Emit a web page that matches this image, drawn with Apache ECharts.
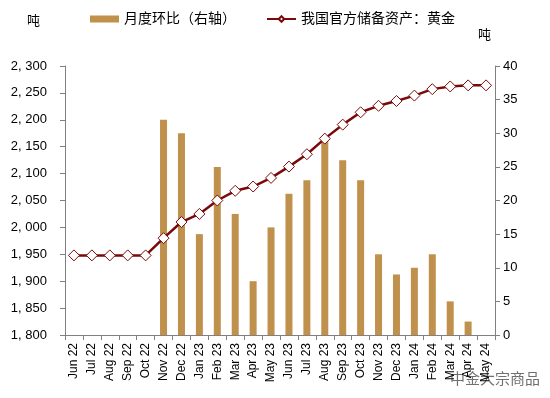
<!DOCTYPE html>
<html>
<head>
<meta charset="utf-8">
<script src="https://cdn.jsdelivr.net/npm/echarts@6/dist/echarts.min.js"></script>
<style>
  html, body { margin: 0; padding: 0; background: #fff; }
  #chart { width: 550px; height: 398px; }
</style>
</head>
<body>
<div id="chart"></div>
<script>
const months = ['Jun 22', 'Jul 22', 'Aug 22', 'Sep 22', 'Oct 22', 'Nov 22', 'Dec 22',
  'Jan 23', 'Feb 23', 'Mar 23', 'Apr 23', 'May 23', 'Jun 23', 'Jul 23', 'Aug 23',
  'Sep 23', 'Oct 23', 'Nov 23', 'Dec 23', 'Jan 24', 'Feb 24', 'Mar 24', 'Apr 24', 'May 24'];
// 月度环比（吨，右轴）
const monthlyChange = [0, 0, 0, 0, 0, 32, 30, 15, 25, 18, 8, 16, 21, 23, 29, 26, 23, 12, 9, 10, 12, 5, 2, 0];
// 我国官方储备资产：黄金（吨，左轴）
const goldReserve = [1948, 1948, 1948, 1948, 1948, 1980, 2010, 2025, 2050, 2068, 2076, 2092,
  2113, 2136, 2165, 2191, 2214, 2226, 2235, 2245, 2257, 2262, 2264, 2264];

const font = 'Liberation Sans, Arial, Noto Sans CJK SC, sans-serif';
const axisColor = '#808080';

const myChart = echarts.init(document.getElementById('chart'));
const option = {
  animation: false,
  textStyle: { fontFamily: font },
  legend: {
    top: 7,
    left: 85,
    itemGap: 30,
    itemWidth: 29,
    itemHeight: 7,
    textStyle: { fontSize: 14, color: '#000', fontFamily: font },
    data: [
      { name: '月度环比（右轴）', icon: 'rect' },
      { name: '我国官方储备资产：黄金' }
    ]
  },
  grid: { left: 65, right: 55, top: 66, bottom: 63 },
  xAxis: {
    type: 'category',
    data: months,
    axisLine: { lineStyle: { color: axisColor } },
    axisTick: { show: true, alignWithLabel: false, lineStyle: { color: axisColor } },
    axisLabel: { rotate: 90, color: '#000', fontSize: 12, interval: 0, margin: 8 }
  },
  yAxis: [
    {
      type: 'value',
      name: '吨',
      nameLocation: 'end',
      nameGap: 38,
      nameTextStyle: { color: '#000', fontSize: 13, align: 'right', padding: [0, 25, 0, 0] },
      min: 1800,
      max: 2300,
      interval: 50,
      splitLine: { show: false },
      axisLine: { show: true, lineStyle: { color: axisColor } },
      axisTick: { show: true, lineStyle: { color: axisColor } },
      axisLabel: {
        color: '#000', fontSize: 13, margin: 18,
        formatter: v => Math.floor(v / 1000) + ', ' + String(v % 1000).padStart(3, '0')
      }
    },
    {
      type: 'value',
      name: '吨',
      nameGap: 24,
      nameTextStyle: { color: '#000', fontSize: 13, align: 'left', padding: [0, 0, 0, -17] },
      min: 0,
      max: 40,
      interval: 5,
      splitLine: { show: false },
      axisLine: { show: true, lineStyle: { color: axisColor } },
      axisTick: { show: true, lineStyle: { color: axisColor } },
      axisLabel: { color: '#000', fontSize: 13, margin: 8 }
    }
  ],
  series: [
    {
      name: '月度环比（右轴）',
      type: 'bar',
      yAxisIndex: 1,
      barWidth: 7,
      data: monthlyChange,
      itemStyle: { color: '#C0904D' }
    },
    {
      name: '我国官方储备资产：黄金',
      type: 'line',
      yAxisIndex: 0,
      data: goldReserve,
      symbol: 'diamond',
      symbolSize: 11,
      lineStyle: { color: '#7A0A0A', width: 2.5 },
      itemStyle: { color: '#fff', borderColor: '#7A0A0A', borderWidth: 1 },
      z: 3
    }
  ],
  graphic: [
    {
      type: 'text',
      right: 10,
      bottom: 12,
      style: { text: '中金大宗商品', fill: '#707070', font: '15px Noto Sans CJK SC, sans-serif' }
    }
  ]
};
myChart.setOption(option);
</script>
</body>
</html>
